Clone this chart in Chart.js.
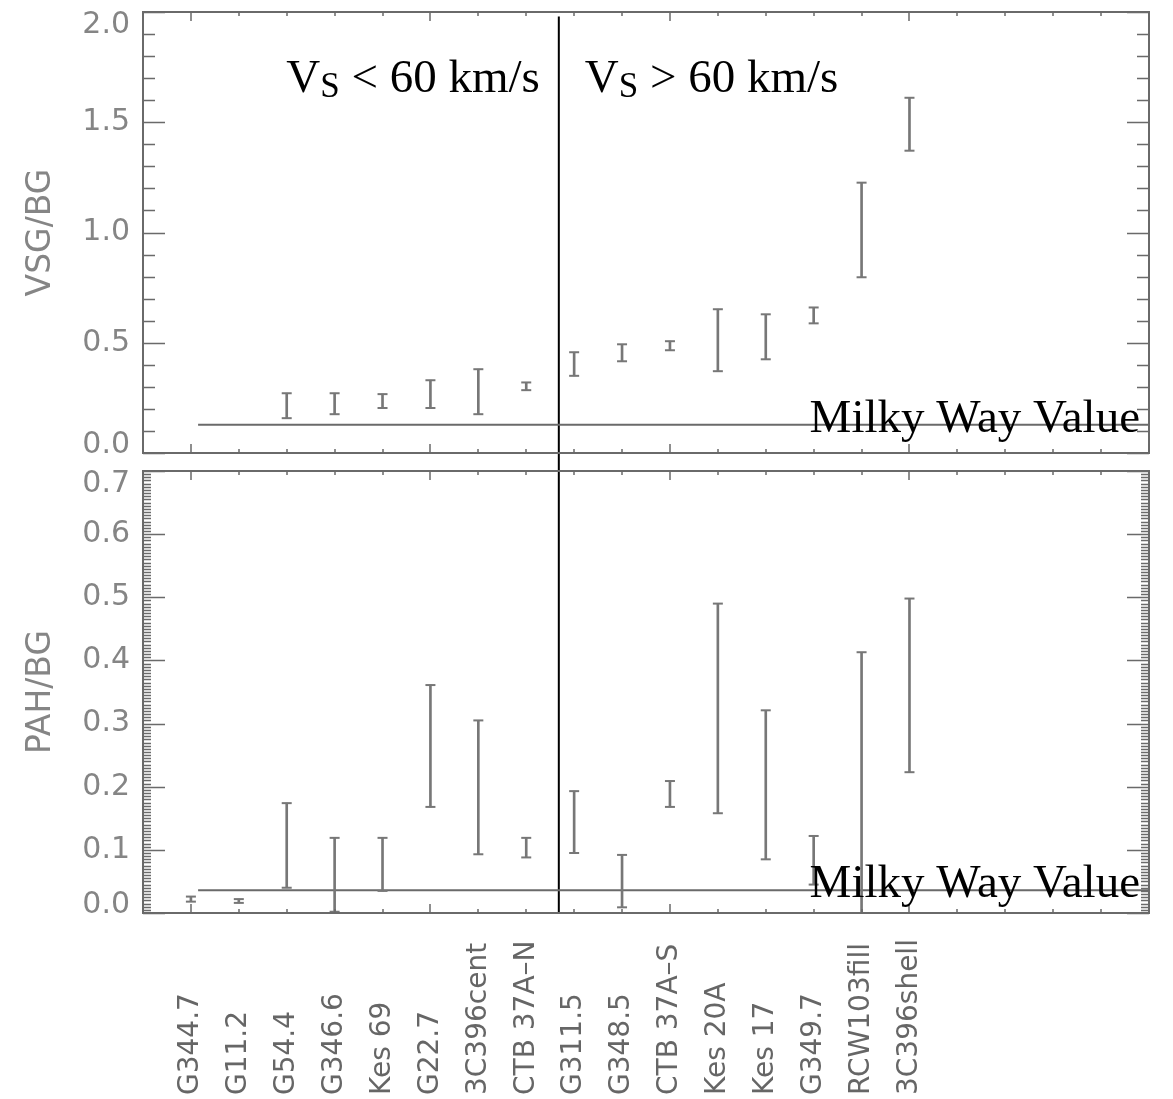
<!DOCTYPE html>
<html>
<head>
<meta charset="utf-8">
<script src="https://cdn.jsdelivr.net/npm/chart.js@4.4.1/dist/chart.umd.min.js"></script>
<style>
  body { margin: 0; background: #fff; }
  #wrap { position: relative; width: 1173px; height: 1099px; }
  canvas { position: absolute; left: 0; }
  #vsg { top: 0; }
  #pah { top: 460px; }
</style>
</head>
<body>
<div id="wrap">
  <canvas id="vsg" width="1173" height="475"></canvas>
  <canvas id="pah" width="1173" height="639"></canvas>
</div>
<script>
// remnants, placed at x = 0, 1, 2 ... on the axis
const remnants = ['G344.7', 'G11.2', 'G54.4', 'G346.6', 'Kes 69', 'G22.7', '3C396cent', 'CTB 37A\u2013N',
  'G311.5', 'G348.5', 'CTB 37A\u2013S', 'Kes 20A', 'Kes 17', 'G349.7', 'RCW103fill', '3C396shell'];

// VSG/BG ranges (null = no measurement)
const vsgLow  = [null, null, 0.158, 0.176, 0.204, 0.204, 0.176, 0.285, 0.350, 0.416, 0.466, 0.371, 0.425, 0.588, 0.797, 1.371];
const vsgHigh = [null, null, 0.271, 0.271, 0.267, 0.330, 0.380, 0.320, 0.457, 0.493, 0.507, 0.652, 0.629, 0.660, 1.226, 1.611];

// PAH/BG ranges
const pahLow  = [0.018, 0.016, 0.040, 0.002, 0.035, 0.168, 0.093, 0.088, 0.095, 0.009, 0.168, 0.158, 0.085, 0.045, 0.000, 0.223];
const pahHigh = [0.026, 0.022, 0.174, 0.119, 0.119, 0.361, 0.305, 0.119, 0.193, 0.092, 0.209, 0.490, 0.321, 0.122, 0.413, 0.498];

const milkyWayVsg = 0.128;
const milkyWayPah = 0.036;
const milkyWayStart = 0.15;
const shockSplit = 7.68; // between CTB 37A-N and G311.5

const vsgTicks = { max: 2.0, step: 0.5, minor: 0.1 };
const pahTicks = { max: 0.7, step: 0.1, minor: 0.005 };

const GRAY = '#6a6a6a';
const LABEL_GRAY = '#858585';

function rangeBars(lo, hi) {
  return lo.map((v, i) => (v === null ? null : { x: i, y: [v, hi[i]] })).filter(Boolean);
}

function capPoints(lo, hi) {
  const pts = [];
  lo.forEach((v, i) => {
    if (v === null) return;
    pts.push({ x: i, y: v }, { x: i, y: hi[i] });
  });
  return pts;
}

// box with inward ticks on all four sides, like the IDL plot
const framePlugin = {
  id: 'frame',
  afterDatasetsDraw(chart, args, opts) {
    const { ctx, chartArea: a, scales: { x, y } } = chart;
    ctx.save();
    ctx.strokeStyle = GRAY;
    ctx.lineWidth = 2;
    ctx.strokeRect(a.left, a.top, a.right - a.left, a.bottom - a.top);
    ctx.lineWidth = 1.5;
    ctx.beginPath();
    for (let v = x.min; v <= x.max; v++) {
      const px = Math.round(x.getPixelForValue(v));
      const len = v % 5 === 0 ? 9 : 4;
      ctx.moveTo(px, a.top); ctx.lineTo(px, a.top + len);
      ctx.moveTo(px, a.bottom); ctx.lineTo(px, a.bottom - len);
    }
    const n = Math.round((y.max - y.min) / opts.minor);
    const every = Math.round(opts.step / opts.minor);
    for (let i = 0; i <= n; i++) {
      const py = Math.round(y.getPixelForValue(y.min + i * opts.minor)) + 0.5;
      const len = i % every === 0 ? 22 : opts.minorLen;
      ctx.moveTo(a.left, py); ctx.lineTo(a.left + len, py);
      ctx.moveTo(a.right, py); ctx.lineTo(a.right - len, py);
    }
    ctx.stroke();
    ctx.restore();
  },
  afterDraw(chart, args, opts) {
    const { ctx, chartArea: a, scales: { x, y } } = chart;
    ctx.save();
    ctx.fillStyle = '#000';
    ctx.font = '47px "Liberation Serif"';
    ctx.textAlign = 'right';
    ctx.textBaseline = 'alphabetic';
    ctx.fillText('Milky Way Value', a.right - 9, y.getPixelForValue(opts.milkyWay) + 7);

    if (opts.speeds) {
      const div = x.getPixelForValue(shockSplit);
      const base = a.top + 80;
      drawSpeed(ctx, 'V', 'S', ' < 60 km/s', div - 19, base, 'right');
      drawSpeed(ctx, 'V', 'S', ' > 60 km/s', div + 26, base, 'left');
    }
    if (opts.names) {
      ctx.fillStyle = '#666';
      ctx.font = '28px "DejaVu Sans"';
      ctx.textAlign = 'left';
      ctx.textBaseline = 'middle';
      remnants.forEach((name, i) => {
        ctx.save();
        ctx.translate(x.getPixelForValue(i), chart.height - 4);
        ctx.rotate(-Math.PI / 2);
        ctx.fillText(name, 0, 0);
        ctx.restore();
      });
    }
    ctx.restore();
  }
};

function drawSpeed(ctx, big, sub, rest, xPos, base, align) {
  const bigFont = '47px "Liberation Serif"';
  const subFont = '35px "Liberation Serif"';
  ctx.font = bigFont;
  const w1 = ctx.measureText(big).width;
  const w3 = ctx.measureText(rest).width;
  ctx.font = subFont;
  const w2 = ctx.measureText(sub).width;
  let x0 = align === 'right' ? xPos - (w1 + w2 + w3) : xPos;
  ctx.textAlign = 'left';
  ctx.font = bigFont;
  ctx.fillText(big, x0, base);
  ctx.font = subFont;
  ctx.fillText(sub, x0 + w1, base + 5);
  ctx.font = bigFont;
  ctx.fillText(rest, x0 + w1 + w2, base);
}

function makePanel(id, cfg) {
  const top = cfg.ticks.max;
  return new Chart(document.getElementById(id), {
    type: 'bar',
    data: {
      datasets: [
        {
          type: 'bar',
          data: rangeBars(cfg.low, cfg.high),
          backgroundColor: '#777',
          borderWidth: 0,
          barThickness: 2,
        },
        {
          type: 'scatter',
          data: capPoints(cfg.low, cfg.high),
          pointStyle: 'line',
          pointRadius: 5,
          borderColor: '#777',
          borderWidth: 2,
        },
        {
          type: 'line',
          data: [{ x: milkyWayStart, y: cfg.milkyWay }, { x: 20, y: cfg.milkyWay }],
          borderColor: GRAY,
          borderWidth: 2,
          pointRadius: 0,
        },
        {
          type: 'line',
          data: cfg.divider.map((v) => ({ x: shockSplit, y: v })),
          borderColor: '#000',
          borderWidth: 2,
          pointRadius: 0,
          clip: false,
        },
      ],
    },
    options: {
      responsive: false,
      animation: false,
      events: [],
      layout: { padding: cfg.padding },
      plugins: {
        legend: { display: false },
        tooltip: { enabled: false },
        frame: {
          minor: cfg.ticks.minor,
          step: cfg.ticks.step,
          minorLen: cfg.minorLen,
          milkyWay: cfg.milkyWay,
          speeds: cfg.speeds,
          names: cfg.names,
        },
      },
      scales: {
        x: { type: 'linear', min: -1, max: 20, offset: false, display: false },
        y: {
          min: 0,
          max: top,
          grid: { display: false, drawTicks: false },
          border: { display: false },
          ticks: {
            stepSize: cfg.ticks.step,
            padding: 13,
            color: LABEL_GRAY,
            // end labels sit inside the box, as in the original plot
            font: (c) => {
              const v = c.tick ? c.tick.value : null;
              let lh = 1.2;
              if (v !== null && Math.abs(v - top) < 1e-9) lh = 0.9;
              if (v === 0) lh = 0.5;
              return { family: 'DejaVu Sans', size: 30, lineHeight: lh };
            },
            callback: (v) => {
              const s = v.toFixed(1);
              if (Math.abs(v - top) < 1e-9) return ['', s];
              if (v === 0) return [s, ''];
              return s;
            },
          },
          title: {
            display: true,
            text: cfg.title,
            color: LABEL_GRAY,
            font: { family: 'DejaVu Sans', size: 33 },
            padding: { top: 22, bottom: 0 },
          },
          afterFit(scale) {
            scale.width = 143;
            scale.paddingTop = 0;
            scale.paddingBottom = 0;
          },
        },
      },
    },
    plugins: [framePlugin],
  });
}

makePanel('vsg', {
  low: vsgLow,
  high: vsgHigh,
  milkyWay: milkyWayVsg,
  ticks: vsgTicks,
  minorLen: 12,
  title: 'VSG/BG',
  divider: [1.98, -0.08],
  padding: { top: 12, bottom: 22, left: 0, right: 24 },
  speeds: true,
  names: false,
});

makePanel('pah', {
  low: pahLow,
  high: pahHigh,
  milkyWay: milkyWayPah,
  ticks: pahTicks,
  minorLen: 8,
  title: 'PAH/BG',
  divider: [0.7, 0],
  padding: { top: 11, bottom: 186, left: 0, right: 24 },
  speeds: false,
  names: true,
});
</script>
</body>
</html>
